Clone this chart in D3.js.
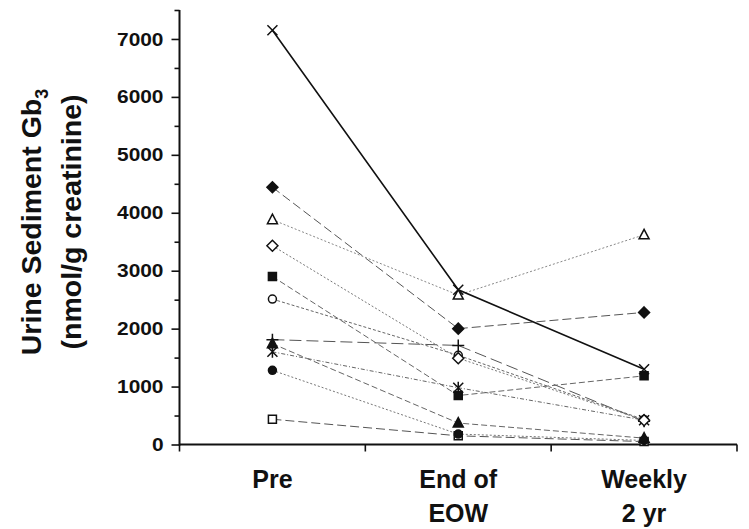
<!DOCTYPE html>
<html><head><meta charset="utf-8">
<script src="https://cdn.jsdelivr.net/npm/d3@7"></script>
<style>body{margin:0;background:#fff}svg{display:block}text{font-family:"Liberation Sans",Arial,sans-serif;font-weight:bold;fill:#111}</style>
</head><body>
<svg id="c" width="749" height="529"></svg>
<script>
const categories = ["Pre", "End of EOW", "Weekly 2 yr"];
const categoryLines = [["Pre"], ["End of", "EOW"], ["Weekly", "2 yr"]];
const yTicks = [0, 1000, 2000, 3000, 4000, 5000, 6000, 7000];
const yMinorTicks = [500, 1500, 2500, 3500, 4500, 5500, 6500, 7500];

const seriesXCross = [7150, 2670, 1300];
const seriesOpenTriangle = [3880, 2580, 3620];
const seriesFilledDiamond = [4440, 2000, 2280];
const seriesOpenDiamond = [3430, 1490, 420];
const seriesFilledSquare = [2900, 845, 1185];
const seriesOpenCircle = [2510, 1540, 430];
const seriesPlus = [1810, 1710, 400];
const seriesFilledTriangle = [1740, 370, 110];
const seriesAsterisk = [1600, 980, 420];
const seriesFilledCircle = [1280, 180, 70];
const seriesOpenSquare = [436, 150, 50];

const series = [
  {name:"openSquare", values:seriesOpenSquare, marker:"square", fill:false, dash:"9,4", color:"#555", w:1},
  {name:"filledCircle", values:seriesFilledCircle, marker:"circle", fill:true, dash:"2,2", color:"#777", w:1},
  {name:"asterisk", values:seriesAsterisk, marker:"asterisk", fill:false, dash:"4,2,1,2", color:"#666", w:1},
  {name:"filledTriangle", values:seriesFilledTriangle, marker:"triangle", fill:true, dash:"6,3", color:"#666", w:1},
  {name:"plus", values:seriesPlus, marker:"plus", fill:false, dash:"12,5", color:"#555", w:1},
  {name:"openCircle", values:seriesOpenCircle, marker:"circle", fill:false, dash:"3,2", color:"#666", w:1},
  {name:"filledSquare", values:seriesFilledSquare, marker:"square", fill:true, dash:"6,3", color:"#666", w:1},
  {name:"openDiamond", values:seriesOpenDiamond, marker:"diamond", fill:false, dash:"2,2", color:"#777", w:1},
  {name:"filledDiamond", values:seriesFilledDiamond, marker:"diamond", fill:true, dash:"9,4", color:"#555", w:1},
  {name:"openTriangle", values:seriesOpenTriangle, marker:"triangle", fill:false, dash:"2,2", color:"#888", w:1},
  {name:"xCross", values:seriesXCross, marker:"x", fill:false, dash:null, color:"#111", w:1.6}
];

const svg = d3.select("#c");
const plotLeft = 179.5, plotRight = 737, plotTop = 10, plotBottom = 444.5;

const x = d3.scaleBand().domain(categories).range([plotLeft, plotRight]).padding(0);
const y = d3.scaleLinear().domain([0, 7500]).range([plotBottom, plotTop]);

// y axis
const yAxis = d3.axisLeft(y).tickValues(yTicks).tickSize(8).tickPadding(8).tickFormat(d3.format("d"));
const gy = svg.append("g").attr("transform", `translate(${plotLeft},0)`).call(yAxis);
gy.select(".domain").remove();
gy.selectAll(".tick line").attr("stroke", "#111").attr("stroke-width", 1.6);
gy.selectAll(".tick text").style("font-size", "19px").attr("fill", "#111")
  .attr("x", -16 / 1.1).attr("transform", "scale(1.1,1)");
const yMinor = d3.axisLeft(y).tickValues(yMinorTicks).tickSize(5).tickFormat("");
const gym = svg.append("g").attr("transform", `translate(${plotLeft},0)`).call(yMinor);
gym.select(".domain").remove();
gym.selectAll(".tick line").attr("stroke", "#111").attr("stroke-width", 1.6);
svg.append("line").attr("x1", plotLeft).attr("x2", plotLeft).attr("y1", y(7500)).attr("y2", plotBottom + 1)
  .attr("stroke", "#111").attr("stroke-width", 2);

// x axis
const boundaries = categories.map(c => x(c)).concat([x(categories[categories.length-1]) + x.bandwidth()]);
svg.append("line").attr("x1", plotLeft).attr("x2", plotRight).attr("y1", plotBottom).attr("y2", plotBottom)
  .attr("stroke", "#111").attr("stroke-width", 2);
svg.selectAll(".xt").data(boundaries).enter().append("line")
  .attr("x1", d => d).attr("x2", d => d).attr("y1", plotBottom).attr("y2", plotBottom + 7)
  .attr("stroke", "#111").attr("stroke-width", 1.6);
categories.forEach((c, i) => {
  const t = svg.append("text").attr("x", x(c) + x.bandwidth()/2).attr("y", 488)
    .attr("text-anchor", "middle").style("font-size", "25px");
  categoryLines[i].forEach((ln, j) => {
    t.append("tspan").attr("x", x(c) + x.bandwidth()/2).attr("dy", j === 0 ? 0 : 34).text(ln);
  });
});

// y label
const yl = svg.append("g").attr("transform", "translate(41,222) rotate(-90)");
const t1 = yl.append("text").attr("text-anchor", "middle").style("font-size", "28.5px");
t1.append("tspan").text("Urine Sediment Gb");
t1.append("tspan").attr("dy", 7).style("font-size", "18px").text("3");
yl.append("text").attr("text-anchor", "middle").attr("y", 40).style("font-size", "28.5px").text("(nmol/g creatinine)");

// lines
const cx = c => x(c) + x.bandwidth()/2;
const line = d3.line().x((d, i) => cx(categories[i])).y(d => y(d));
svg.selectAll(".ser").data(series).enter().append("path")
  .attr("d", s => line(s.values)).attr("fill", "none")
  .attr("stroke", s => s.color).attr("stroke-width", s => s.w)
  .attr("stroke-dasharray", s => s.dash);

function markerPath(m) {
  switch (m) {
    case "square": return "M-4,-4H4V4H-4Z";
    case "diamond": return "M0,-5.5L5.5,0L0,5.5L-5.5,0Z";
    case "triangle": return "M0,-5.5L5,4L-5,4Z";
    case "x": return "M-5,-5L5,5M5,-5L-5,5";
    case "plus": return "M-6,0H6M0,-6V6";
    case "asterisk": return "M-5,-5L5,5M5,-5L-5,5M0,-6V6";
    default: return null;
  }
}
series.forEach(s => {
  s.values.forEach((v, i) => {
    const px = cx(categories[i]), py = y(v);
    if (s.marker === "circle") {
      svg.append("circle").attr("cx", px).attr("cy", py).attr("r", 4)
        .attr("fill", s.fill ? "#111" : "#fff").attr("stroke", "#111").attr("stroke-width", 1.5);
    } else {
      const open = !s.fill && (s.marker === "square" || s.marker === "diamond" || s.marker === "triangle");
      svg.append("path").attr("transform", `translate(${px},${py})`).attr("d", markerPath(s.marker))
        .attr("fill", s.fill ? "#111" : (open ? "#fff" : "none"))
        .attr("stroke", "#111").attr("stroke-width", 1.5);
    }
  });
});
</script>
</body></html>
